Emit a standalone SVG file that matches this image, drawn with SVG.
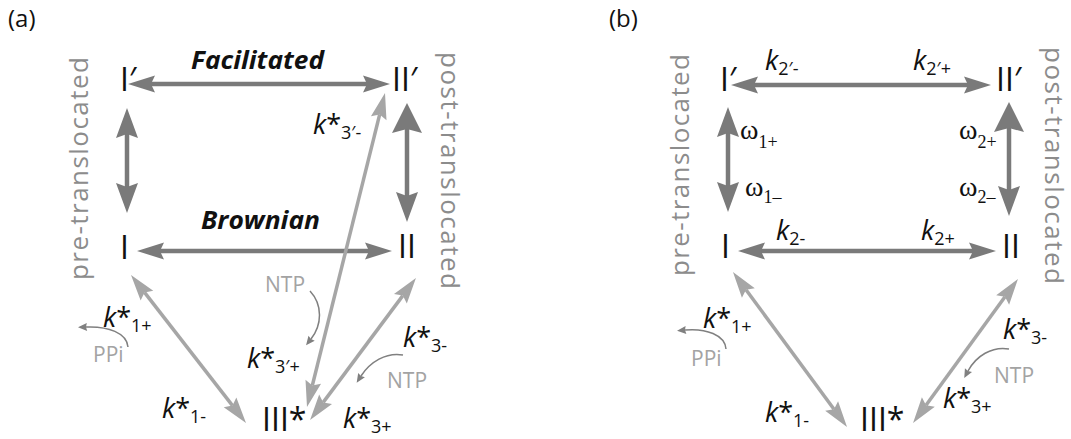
<svg xmlns="http://www.w3.org/2000/svg" width="1071" height="439" viewBox="0 0 1071 439">
<style>
.node{font-family:"Open Sans","Liberation Sans",sans-serif;font-size:32px;fill:#111}
.lab{font-family:"Open Sans","Liberation Sans",sans-serif;font-size:24px;fill:#111}
.bi{font-family:"Open Sans","Liberation Sans",sans-serif;font-size:25px;font-weight:bold;font-style:italic;fill:#111}
.k{font-family:"Open Sans","Liberation Sans",sans-serif;font-size:27px;fill:#111}
.i{font-style:italic}
.sub{font-size:18px}
.w{font-family:"Liberation Serif","DejaVu Serif",serif;font-size:28px;fill:#111}
.ws{font-size:18px}
.mol{font-family:"Open Sans","Liberation Sans",sans-serif;font-size:21px;fill:#a3a3a3}
.side{font-family:"Open Sans","Liberation Sans",sans-serif;font-size:26px;fill:#8c8c8c}
.dk{stroke:#7a7a7a;stroke-width:4.5;fill:none}
.lt{stroke:#a6a6a6;stroke-width:3.5;fill:none}
.cv{stroke:#808080;stroke-width:1.5;fill:none}
</style>
<defs>
<marker id="mD" markerUnits="userSpaceOnUse" orient="auto-start-reverse" refX="0" refY="0" markerWidth="40" markerHeight="40" overflow="visible"><path d="M23,0 L-4,-8.5 L0,0 L-4,8.5 Z" fill="#7a7a7a"/></marker>
<marker id="mV" markerUnits="userSpaceOnUse" orient="auto-start-reverse" refX="0" refY="0" markerWidth="40" markerHeight="40" overflow="visible"><path d="M26,0 L-4,-11 L0,0 L-4,11 Z" fill="#7a7a7a"/></marker>
<marker id="mVW" markerUnits="userSpaceOnUse" orient="auto-start-reverse" refX="0" refY="0" markerWidth="40" markerHeight="40" overflow="visible"><path d="M26,0 L-4,-15 L0,0 L-4,15 Z" fill="#7a7a7a"/></marker>
<marker id="mL" markerUnits="userSpaceOnUse" orient="auto-start-reverse" refX="0" refY="0" markerWidth="40" markerHeight="40" overflow="visible"><path d="M22,0 L-4,-8 L0,0 L-4,8 Z" fill="#a6a6a6"/></marker>
<marker id="mS" markerUnits="userSpaceOnUse" orient="auto" refX="0" refY="0" markerWidth="20" markerHeight="20" overflow="visible"><path d="M8,0 L-1,-4 L0,0 L-1,4 Z" fill="#808080"/></marker>
</defs>

<!-- Panel (a) -->
<text class="lab" x="8" y="27">(a)</text>
<text class="side" x="88" y="280" transform="rotate(-90 88 280)" textLength="223" lengthAdjust="spacing">pre-translocated</text>
<text class="side" x="441" y="52" transform="rotate(90 441 52)" textLength="237" lengthAdjust="spacing">post-translocated</text>

<g id="connectors-a">
<line class="dk" x1="151" y1="84" x2="367" y2="84" marker-start="url(#mD)" marker-end="url(#mD)"/>
<line class="dk" x1="160" y1="251" x2="369" y2="251" marker-start="url(#mD)" marker-end="url(#mD)"/>
<line class="dk" x1="127" y1="134" x2="127" y2="187" marker-start="url(#mV)" marker-end="url(#mV)"/>
<line class="dk" x1="407" y1="129" x2="407" y2="196" marker-start="url(#mVW)" marker-end="url(#mV)"/>
<line class="lt" x1="144.5" y1="292.4" x2="232.5" y2="405.6" marker-start="url(#mL)" marker-end="url(#mL)"/>
<line class="lt" x1="379.7" y1="114.4" x2="312.3" y2="385.6" marker-start="url(#mL)" marker-end="url(#mL)"/>
<line class="lt" x1="402.8" y1="295.6" x2="323.2" y2="402.4" marker-start="url(#mL)" marker-end="url(#mL)"/>
<path class="cv" d="M310,291 C323,305 322,325 311,339" marker-end="url(#mS)"/>
<path class="cv" d="M403,355 C386,352 370,362 361,376" marker-end="url(#mS)"/>
<path class="cv" d="M128,347 C127,333 108,326 86,327" marker-end="url(#mS)"/>
</g>

<text class="bi" x="191" y="69" textLength="133" lengthAdjust="spacingAndGlyphs">Facilitated</text>
<text class="bi" x="201" y="229" textLength="119" lengthAdjust="spacingAndGlyphs">Brownian</text>

<g id="a-Iprime"><text class="node" x="120" y="91">I′</text></g>
<g id="a-IIprime"><text class="node" x="392" y="91">II′</text></g>
<g id="a-I"><text class="node" x="120" y="259">I</text></g>
<g id="a-II"><text class="node" x="398" y="258">II</text></g>
<g id="a-III"><text class="node" x="262" y="431">III*</text></g>

<text class="k" x="313" y="134"><tspan class="i">k</tspan>*<tspan class="sub" dy="5">3′-</tspan></text>
<text class="k" x="103" y="327"><tspan class="i">k</tspan>*<tspan class="sub" dy="5">1+</tspan></text>
<text class="k" x="162" y="418"><tspan class="i">k</tspan>*<tspan class="sub" dy="5">1-</tspan></text>
<text class="k" x="247" y="368"><tspan class="i">k</tspan>*<tspan class="sub" dy="5">3′+</tspan></text>
<text class="k" x="403" y="347"><tspan class="i">k</tspan>*<tspan class="sub" dy="5">3-</tspan></text>
<text class="k" x="343" y="428"><tspan class="i">k</tspan>*<tspan class="sub" dy="5">3+</tspan></text>
<text class="mol" x="265" y="292">NTP</text>
<text class="mol" x="387" y="388">NTP</text>
<text class="mol" x="93" y="362">PPi</text>

<!-- Panel (b) -->
<text class="lab" x="609" y="27">(b)</text>
<text class="side" x="689" y="276" transform="rotate(-90 689 276)" textLength="222" lengthAdjust="spacing">pre-translocated</text>
<text class="side" x="1045" y="47" transform="rotate(90 1045 47)" textLength="237" lengthAdjust="spacing">post-translocated</text>

<g id="connectors-b">
<line class="dk" x1="754" y1="85" x2="968" y2="85" marker-start="url(#mD)" marker-end="url(#mD)"/>
<line class="dk" x1="761" y1="251" x2="973" y2="251" marker-start="url(#mD)" marker-end="url(#mD)"/>
<line class="dk" x1="728" y1="133" x2="728" y2="186" marker-start="url(#mV)" marker-end="url(#mV)"/>
<line class="dk" x1="1009" y1="128" x2="1009" y2="190" marker-start="url(#mVW)" marker-end="url(#mV)"/>
<line class="lt" x1="746" y1="289.7" x2="834" y2="409.3" marker-start="url(#mL)" marker-end="url(#mL)"/>
<line class="lt" x1="1005" y1="296.8" x2="926" y2="405.2" marker-start="url(#mL)" marker-end="url(#mL)"/>
<path class="cv" d="M726,349 C725,335 706,328 685,330" marker-end="url(#mS)"/>
<path class="cv" d="M1009,349 C992,346 976,356 968,371" marker-end="url(#mS)"/>
</g>

<g id="b-Iprime"><text class="node" x="720" y="91">I′</text></g>
<g id="b-IIprime"><text class="node" x="996" y="91">II′</text></g>
<g id="b-I"><text class="node" x="721" y="258">I</text></g>
<g id="b-II"><text class="node" x="1002" y="258">II</text></g>
<g id="b-III"><text class="node" x="860" y="431">III*</text></g>

<text class="k" x="765" y="70"><tspan class="i">k</tspan><tspan class="sub" dy="5">2′-</tspan></text>
<text class="k" x="913" y="70"><tspan class="i">k</tspan><tspan class="sub" dy="5">2′+</tspan></text>
<text class="k" x="776" y="240"><tspan class="i">k</tspan><tspan class="sub" dy="5">2-</tspan></text>
<text class="k" x="921" y="240"><tspan class="i">k</tspan><tspan class="sub" dy="5">2+</tspan></text>
<text class="w" x="740" y="139">ω<tspan class="ws" dy="9">1+</tspan></text>
<text class="w" x="745" y="196">ω<tspan class="ws" dy="7">1–</tspan></text>
<text class="w" x="959" y="139">ω<tspan class="ws" dy="9">2+</tspan></text>
<text class="w" x="959" y="196">ω<tspan class="ws" dy="7">2–</tspan></text>
<text class="k" x="703" y="328"><tspan class="i">k</tspan>*<tspan class="sub" dy="5">1+</tspan></text>
<text class="k" x="765" y="422"><tspan class="i">k</tspan>*<tspan class="sub" dy="5">1-</tspan></text>
<text class="k" x="1003" y="339"><tspan class="i">k</tspan>*<tspan class="sub" dy="5">3-</tspan></text>
<text class="k" x="943" y="408"><tspan class="i">k</tspan>*<tspan class="sub" dy="5">3+</tspan></text>
<text class="mol" x="691" y="366">PPi</text>
<text class="mol" x="994" y="383">NTP</text>
</svg>
